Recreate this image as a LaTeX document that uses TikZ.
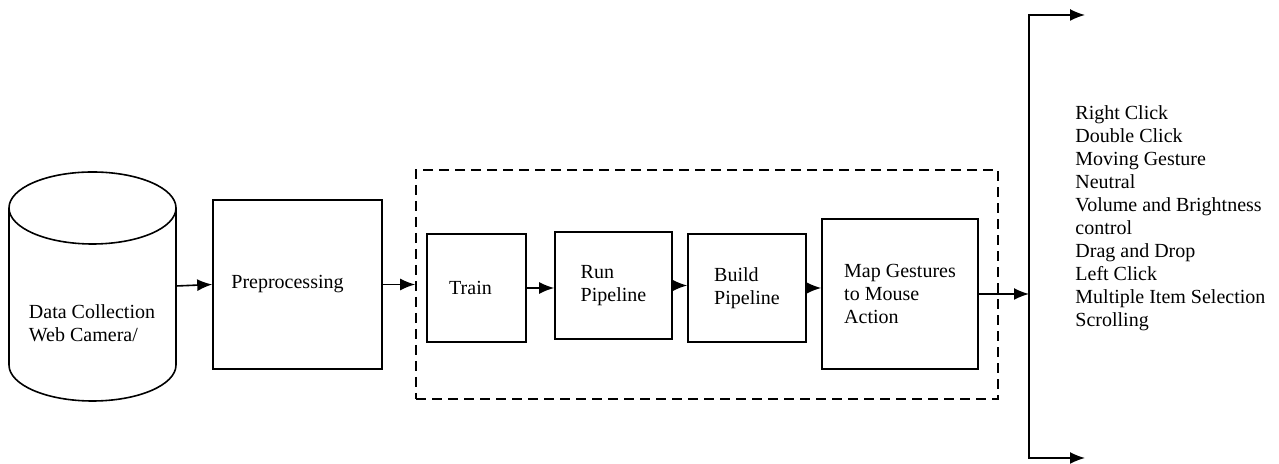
\documentclass[tikz,border=0pt]{standalone}
\usepackage{fontspec}
\setmainfont{Liberation Serif}
\usetikzlibrary{
positioning,%
calc,%
arrows.meta
}
\tikzset{
    stepbox/.style={draw, line width=0.8pt, align=left, inner sep=2pt},
    group/.style={draw, dashed, line width=0.8pt, dash pattern=on 5pt off 3pt},
    txt/.style={align=left, inner sep=0pt},
    flow/.style={->, line width=0.8pt}
}

\begin{document}
\begin{tikzpicture}[>={Latex[length=7.5pt,width=6pt]}, x=0.5pt, y=0.5pt,
    font=\fontsize{10pt}{11.5pt}\selectfont]
            \useasboundingbox (0,0) rectangle (1279,464);
            % data store
            \draw[line width=0.8pt] (92.5,256) ellipse [x radius=83.5, y radius=36];
            \draw[line width=0.8pt] (9,256) -- (9,99)
                arc[start angle=180, end angle=360, x radius=83.5, y radius=36] -- (176,256);
            \node[txt] (cam) at (92,141) {Data Collection\\Web Camera/};
            \coordinate (camr) at (176,178);
            % boxes
            \node[stepbox, minimum width=84.5pt, minimum height=84.5pt] (prep) at (297.5,179.5) {Preprocessing\hspace*{10pt}};
            \node[group, minimum width=291pt, minimum height=114.5pt] (pipe) at (707,179.5) {};
            \node[stepbox, minimum width=49.5pt, minimum height=54pt] (train) at (476.5,176) {Train\hspace*{6pt}};
            \node[stepbox, minimum width=58.5pt, minimum height=53.5pt] (run) at (613.5,178.5) {Run\\Pipeline};
            \node[stepbox, minimum width=59pt, minimum height=54pt] (build) at (747,176) {Build\\Pipeline};
            \node[stepbox, minimum width=78pt, minimum height=75pt] (map) at (900,170) {Map Gestures\\to Mouse\\Action};
            % outputs
            \coordinate (br) at (1029,170);
            \coordinate (tipu) at (1085,449);
            \coordinate (tipd) at (1085,6);
            \node[txt, anchor=west] (acts) at (1075,246) {Right Click\\Double Click\\Moving Gesture\\Neutral\\Volume and Brightness\\control\\Drag and Drop\\Left Click\\Multiple Item Selection\\Scrolling};
            \draw[flow] (camr) -- (prep.west);
            \draw[flow] (prep.east) -- (pipe.west);
            \draw[flow] (train.east) -- (run.west |- train.east);
            \draw[flow] (run.east) -- (build.west |- run.east);
            \draw[flow] (build.east) -- (map.west |- build.east);
            \draw[flow] (map.east) -- (br);
            \draw[flow, <->] (tipd) -| (br) |- (tipu);
        \end{tikzpicture}
\end{document}
